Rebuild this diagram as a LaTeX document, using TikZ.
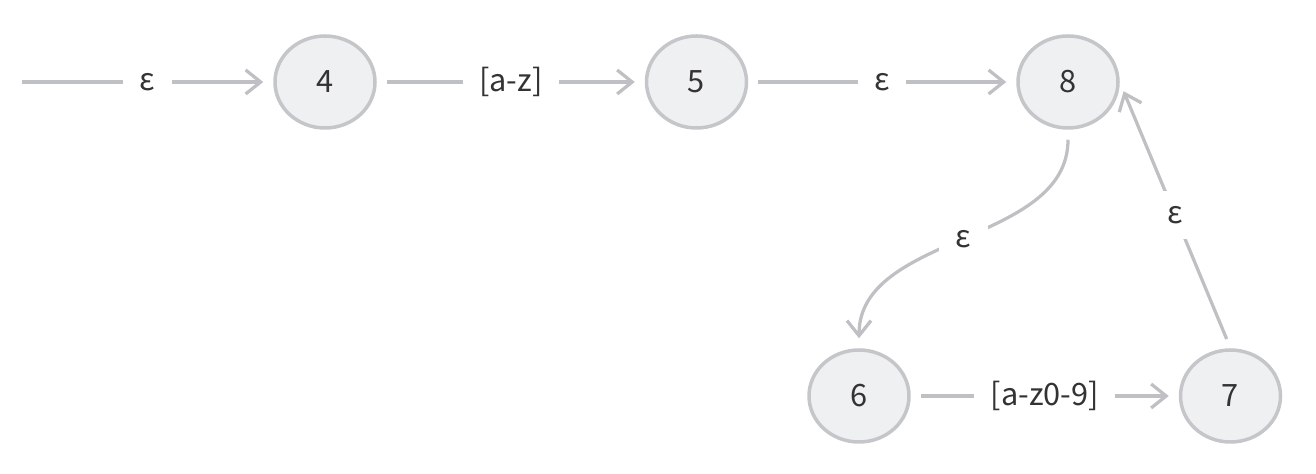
\documentclass[tikz,border=0pt]{standalone}
\usepackage{fontspec}
\setmainfont{Noto Sans CJK SC}
\usepackage{xcolor}
\usetikzlibrary{positioning, arrows.meta, shapes.geometric}

\definecolor{edgegray}{HTML}{BEC0C4}
\definecolor{statefill}{HTML}{EFF0F2}
\definecolor{stateline}{HTML}{C4C6C9}
\definecolor{textdark}{HTML}{333333}

\begin{document}
\begin{tikzpicture}[
        state/.style={draw=stateline, line width=0.07cm, fill=statefill, ellipse, minimum width=2.0cm, minimum height=1.84cm, font=\fontsize{17.5}{20}\selectfont, text=textdark, inner sep=0pt},
        trans/.style={line width=0.065cm, edgegray, shorten <=0.2cm, shorten >=0.2cm, -{Straight Barb[length=0.3cm, width=0.48cm, line width=0.065cm]}},
        sym/.style={fill=white, font=\fontsize{17.5}{20}\selectfont, text=textdark, inner xsep=0.33cm, inner ysep=0.3cm},
        node distance=1.2cm and 5.36cm
    ]
    \useasboundingbox (0,0) rectangle (26.32,9.48);

    % Top row
    \node[state] (n4) at (6.5,7.84) {4};
    \node[state, right=of n4] (n5) {5};
    \node[state, right=of n5] (n8) {8};
    \coordinate (start) at (0.44,7.84);

    % Bottom row
    \node[state] (n6) at (17.18,1.56) {6};
    \node[state, right=of n6] (n7) {7};

    % Edges
    \draw[trans, shorten <=0pt] (start) -- node[sym] {ε} (n4);
    \draw[trans] (n4) -- node[sym] {[a-z]} (n5);
    \draw[trans] (n5) -- node[sym] {ε} (n8);
    \draw[trans] (n8.south) .. controls +(0,-2.3) and +(0,2.3) .. node[sym] {ε} (n6.north);
    \draw[trans] (n6) -- node[sym] {[a-z0-9]} (n7);
    \draw[trans] (n7.north) -- node[sym] {ε} (n8.east);

\end{tikzpicture}
\end{document}
